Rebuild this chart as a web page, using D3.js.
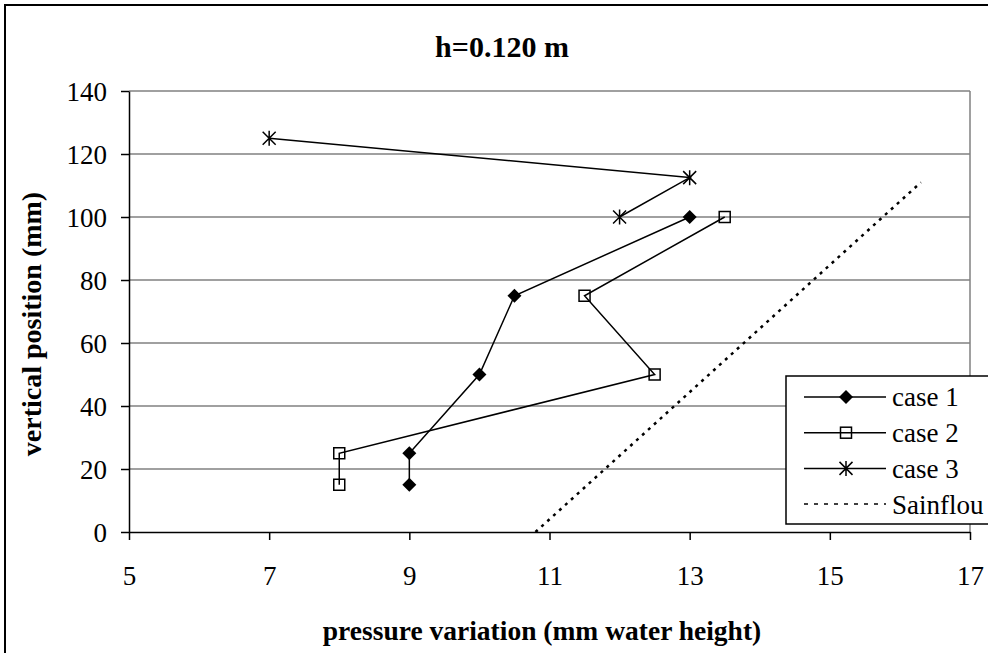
<!DOCTYPE html>
<html>
<head>
<meta charset="utf-8">
<script src="https://cdnjs.cloudflare.com/ajax/libs/d3/7.8.5/d3.min.js"></script>
<style>
	body { margin: 0; background: #fff; }
	.axis path, .axis line { stroke: #000; stroke-width: 1.5; }
	.grid line { stroke: #808080; stroke-width: 1.5; }
</style>
</head>
<body>
<div class="chart"></div>
<script>
// data
var case1X = [9, 9, 10, 10.5, 13];
var case1Y = [15, 25, 50, 75, 100];

var case2X = [8, 8, 12.5, 11.5, 13.5];
var case2Y = [15, 25, 50, 75, 100];

var case3X = [12, 13, 7];
var case3Y = [100, 112.5, 125];

var sainflouX = [10.8, 16.3];
var sainflouY = [0, 111];

var xTicks = [5, 7, 9, 11, 13, 15, 17];
var yTicks = [0, 20, 40, 60, 80, 100, 120, 140];

var seriesNames = ["case 1", "case 2", "case 3", "Sainflou"];

var FONT = "'Liberation Serif', 'Times New Roman', Times, 'DejaVu Serif', serif";

var W = 988, H = 653;
var margin = { top : 91, right : 18, bottom : 121, left : 129 },
	width = W - margin.left - margin.right,
	height = H - margin.top - margin.bottom;

function zip( xs, ys ) {
	return xs.map(function ( x, i ) {
		return { x : x, y : ys[i] };
	});
}

var series = [
	{ name : seriesNames[0], marker : "diamond", dash : null, pts : zip(case1X, case1Y) },
	{ name : seriesNames[1], marker : "square", dash : null, pts : zip(case2X, case2Y) },
	{ name : seriesNames[2], marker : "star", dash : null, pts : zip(case3X, case3Y) },
	{ name : seriesNames[3], marker : null, dash : "3,5", pts : zip(sainflouX, sainflouY) }
];

var root = d3.select(".chart").append("svg")
	.attr("width", W)
	.attr("height", H);

// outer frame, runs off the right and bottom edge like the original
root.append("rect")
	.attr("x", 5).attr("y", 5)
	.attr("width", W + 10).attr("height", H + 10)
	.attr("fill", "none")
	.attr("stroke", "#000")
	.attr("stroke-width", 2);

var svg = root.append("g")
	.attr("transform", "translate(" + margin.left + "," + margin.top + ")");

var xScale = d3.scaleLinear().domain([5, 17]).range([0, width]);
var yScale = d3.scaleLinear().domain([0, 140]).range([height, 0]);

// horizontal gridlines
svg.append("g")
	.attr("class", "grid")
	.selectAll("line")
	.data(yTicks.slice(1))
	.enter()
	.append("line")
	.attr("x1", 0).attr("x2", width)
	.attr("y1", function ( d ) { return yScale(d); })
	.attr("y2", function ( d ) { return yScale(d); });

// right border of plot area
svg.append("line")
	.attr("x1", width).attr("x2", width)
	.attr("y1", 0).attr("y2", height)
	.attr("stroke", "#808080").attr("stroke-width", 1.5);

var xAxis = svg.append("g")
	.attr("class", "x axis")
	.attr("transform", "translate(0," + height + ")")
	.call(d3.axisBottom(xScale).tickValues(xTicks).tickSize(8).tickSizeOuter(0).tickPadding(26));
xAxis.selectAll("text").attr("dy", "0.71em");

var yAxis = svg.append("g")
	.attr("class", "y axis")
	.call(d3.axisLeft(yScale).tickValues(yTicks).tickSize(8).tickSizeOuter(0).tickPadding(14));
yAxis.selectAll("text").attr("dy", "0.35em");

svg.selectAll(".axis")
	.attr("font-family", FONT)
	.attr("font-size", 27);
svg.selectAll(".axis text").attr("fill", "#000");

// series lines
var line = d3.line()
	.x(function ( d ) { return xScale(d.x); })
	.y(function ( d ) { return yScale(d.y); });

svg.selectAll(".series")
	.data(series)
	.enter()
	.append("path")
	.attr("class", "series")
	.attr("d", function ( d ) { return line(d.pts); })
	.attr("fill", "none")
	.attr("stroke", "#000")
	.attr("stroke-width", function ( d ) { return d.dash ? 2.5 : 1.5; })
	.attr("stroke-dasharray", function ( d ) { return d.dash; });

function drawMarker( g, type ) {
	if ( type === "diamond" ) {
		g.append("path")
			.attr("d", "M0,-7L7,0L0,7L-7,0Z")
			.attr("fill", "#000");
	} else if ( type === "square" ) {
		g.append("rect")
			.attr("x", -5.5).attr("y", -5.5)
			.attr("width", 11).attr("height", 11)
			.attr("fill", "none")
			.attr("stroke", "#000")
			.attr("stroke-width", 1.5);
	} else if ( type === "star" ) {
		g.append("path")
			.attr("d", "M0,-7.5L0,7.5M-6.5,-6.5L6.5,6.5M-6.5,6.5L6.5,-6.5")
			.attr("stroke", "#000")
			.attr("stroke-width", 1.5);
	}
}

series.forEach(function ( s ) {
	if ( !s.marker ) return;
	s.pts.forEach(function ( p ) {
		var g = svg.append("g")
			.attr("transform", "translate(" + xScale(p.x) + "," + yScale(p.y) + ")");
		drawMarker(g, s.marker);
	});
});

// title and axis labels
root.append("text")
	.attr("x", 502)
	.attr("y", 57)
	.attr("text-anchor", "middle")
	.attr("font-size", 30)
	.attr("font-weight", "bold")
	.text("h=0.120 m");

root.append("text")
	.attr("text-anchor", "middle")
	.attr("font-size", 27.5)
	.attr("font-weight", "bold")
	.attr("transform", "translate(542,640)")
	.text("pressure variation (mm water height)");

root.append("text")
	.attr("text-anchor", "middle")
	.attr("font-size", 28)
	.attr("font-weight", "bold")
	.attr("transform", "translate(41,324)rotate(-90)")
	.text("vertical position (mm)");

// legend
var legend = root.append("g").attr("transform", "translate(786,376)");

legend.append("rect")
	.attr("width", 220).attr("height", 148)
	.attr("fill", "#fff")
	.attr("stroke", "#000")
	.attr("stroke-width", 1.5);

var rows = legend.selectAll(".row")
	.data(series)
	.enter()
	.append("g")
	.attr("class", "row")
	.attr("transform", function ( d, i ) { return "translate(0," + (21 + i * 35.7) + ")"; });

rows.append("line")
	.attr("x1", 18).attr("x2", 100)
	.attr("stroke", "#000")
	.attr("stroke-width", 1.5)
	.attr("stroke-dasharray", function ( d ) { return d.dash ? "4,6" : null; });

rows.each(function ( d ) {
	if ( !d.marker ) return;
	drawMarker(d3.select(this).append("g").attr("transform", "translate(60,0)"), d.marker);
});

rows.append("text")
	.attr("x", 106)
	.attr("dy", "0.35em")
	.attr("font-size", 27)
	.text(function ( d ) { return d.name; });

// all text in the serif face, set on the elements themselves
root.selectAll("text")
	.style("font-family", FONT)
	.style("fill", "#000");
</script>
</body>
</html>
